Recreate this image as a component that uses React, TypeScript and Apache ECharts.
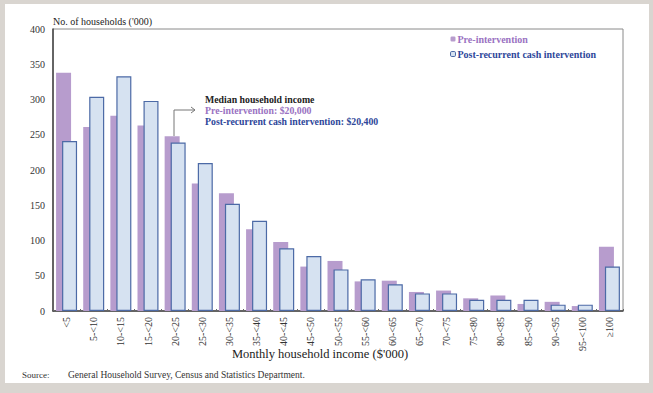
import React, { useEffect, useRef } from "react";
import * as echarts from "echarts";

const categories = [
  "<5", "5-<10", "10-<15", "15-<20", "20-<25", "25-<30", "30-<35", "35-<40",
  "40-<45", "45-<50", "50-<55", "55-<60", "60-<65", "65-<70", "70-<75", "75-<80",
  "80-<85", "85-<90", "90-<95", "95-<100", "≥100",
];
const preIntervention = [338, 261, 277, 263, 248, 181, 167, 116, 98, 63, 71, 42, 43, 27, 29, 18, 22, 10, 13, 7, 91];
const postIntervention = [241, 304, 333, 298, 239, 210, 152, 128, 89, 78, 59, 45, 38, 25, 25, 16, 16, 16, 9, 9, 63];
const yTicks = { min: 0, max: 400, interval: 50 };

const SERIF = "'Liberation Serif', 'DejaVu Serif', serif";
const PURPLE = "#b79ccd";
const PURPLE_TEXT = "#9a72c2";
const BLUE_FILL = "#d6e2f1";
const BLUE_EDGE = "#4c6aa6";
const BLUE_TEXT = "#2e479a";

export default function App() {
  const ref = useRef<HTMLDivElement>(null);
  useEffect(() => {
    if (!ref.current) return;
    const chart = echarts.init(ref.current, undefined, { renderer: "svg" });
    chart.setOption({
      animation: false,
      backgroundColor: "#d9d5d0",
      textStyle: { fontFamily: SERIF },
      grid: {
        left: 53, top: 29, right: 30, bottom: 82,
        show: true, borderColor: "#8a8a8a", borderWidth: 1, backgroundColor: "#fff",
        containLabel: false,
      },
      legend: {
        orient: "vertical",
        left: 445,
        top: 29,
        itemWidth: 5,
        itemHeight: 5,
        itemGap: 5,
        textStyle: { fontFamily: SERIF, fontWeight: "bold", fontSize: 10, padding: [0, 0, 0, -3] },
        data: [
          { name: "Pre-intervention", textStyle: { color: PURPLE_TEXT } },
          { name: "Post-recurrent cash intervention", textStyle: { color: BLUE_TEXT }, itemStyle: { borderWidth: 1 } },
        ],
      },
      xAxis: {
        type: "category",
        data: categories,
        axisLine: { lineStyle: { color: "#444", width: 1.5 } },
        axisTick: { show: true, inside: true, length: 2, lineStyle: { color: "#666" } },
        axisLabel: { rotate: 90, fontSize: 10, color: "#333", margin: 6, fontFamily: SERIF, interval: 0 },
      },
      yAxis: {
        type: "value",
        min: yTicks.min,
        max: yTicks.max,
        interval: yTicks.interval,
        splitLine: { show: false },
        axisLine: { show: true, lineStyle: { color: "#444", width: 1.5 } },
        axisTick: { show: false },
        axisLabel: { fontSize: 10, color: "#333", margin: 8, fontFamily: SERIF },
      },
      series: [
        {
          name: "Pre-intervention",
          type: "bar",
          data: preIntervention,
          barWidth: 15,
          barGap: "-60%",
          itemStyle: { color: PURPLE },
        },
        {
          name: "Post-recurrent cash intervention",
          type: "bar",
          data: postIntervention,
          barWidth: 15,
          itemStyle: { color: BLUE_FILL, borderColor: BLUE_EDGE, borderWidth: 1.2 },
        },
      ],
      graphic: [
        { type: "rect", z: -100, shape: { x: 5, y: 4, width: 644, height: 379 }, style: { fill: "#fff" }, silent: true },
        { type: "text", x: 53, y: 16, style: { text: "No. of households ('000)", fontSize: 10, fill: "#222", fontFamily: SERIF } },
        { type: "text", x: 320, y: 347, style: { text: "Monthly household income ($'000)", fontSize: 12.5, fill: "#222", fontFamily: SERIF, align: "center" } },
        { type: "text", x: 22, y: 370, style: { text: "Source:", fontSize: 9, fill: "#333", fontFamily: SERIF } },
        { type: "text", x: 68, y: 370, style: { text: "General Household Survey, Census and Statistics Department.", fontSize: 9.5, fill: "#333", fontFamily: SERIF } },
        { type: "polyline", shape: { points: [[174, 136], [174, 110], [195, 110]] }, style: { stroke: "#777", lineWidth: 1, fill: "none" } },
        { type: "polyline", shape: { points: [[191, 107], [195, 110], [191, 113]] }, style: { stroke: "#777", lineWidth: 1, fill: "none" } },
        { type: "text", x: 205, y: 94, style: { text: "Median household income", fontSize: 9.8, fontWeight: "bold", fill: "#222", fontFamily: SERIF } },
        { type: "text", x: 205, y: 105, style: { text: "Pre-intervention: $20,000", fontSize: 9.8, fontWeight: "bold", fill: PURPLE_TEXT, fontFamily: SERIF } },
        { type: "text", x: 205, y: 116, style: { text: "Post-recurrent cash intervention: $20,400", fontSize: 9.8, fontWeight: "bold", fill: BLUE_TEXT, fontFamily: SERIF } },
      ],
    });
    return () => chart.dispose();
  }, []);
  return <div ref={ref} style={{ position: "fixed", left: 0, top: 0, width: 653, height: 393 }} />;
}
